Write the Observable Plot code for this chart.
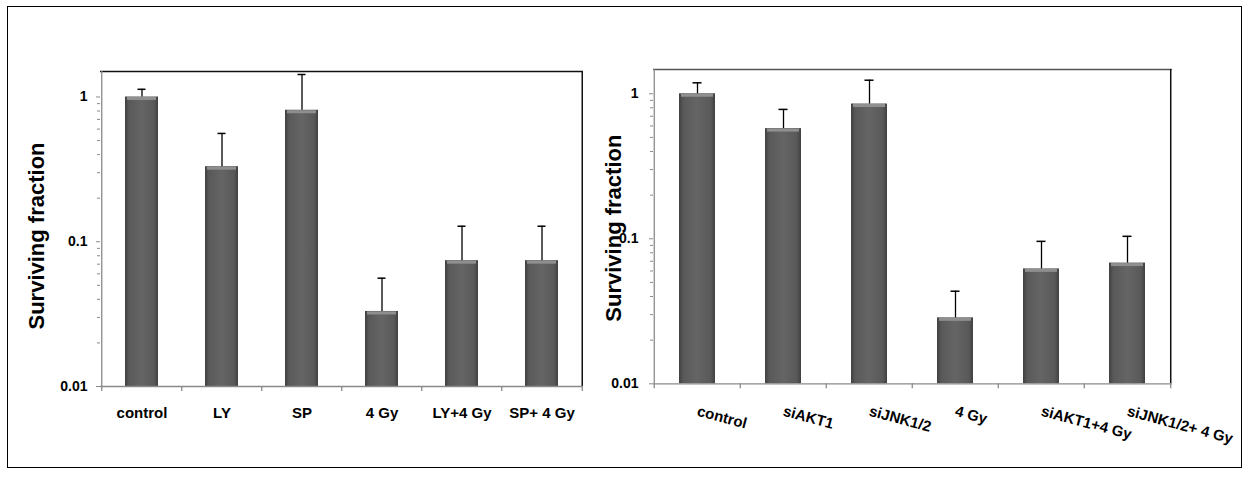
<!DOCTYPE html>
<html>
<head>
<meta charset="utf-8">
<script src="https://cdn.jsdelivr.net/npm/d3@7"></script>
<script src="https://cdn.jsdelivr.net/npm/@observablehq/plot@0.6"></script>
<style>
  html, body { margin: 0; padding: 0; background: #fff; }
  #wrap { position: relative; width: 1249px; height: 480px; overflow: hidden; font-family: "Liberation Sans", Arial, sans-serif; }
  #left { position: absolute; left: 0; top: 0; width: 590px; height: 480px; }
  #right { position: absolute; left: 590px; top: 0; width: 659px; height: 480px; }
  #border { position: absolute; left: 7px; top: 6px; width: 1235px; height: 462px; box-sizing: border-box; border: 1.5px solid #000; pointer-events: none; z-index: 5; }
</style>
</head>
<body>
<div id="wrap">
  <div id="left"></div>
  <div id="right"></div>
  <div id="border"></div>
</div>
<script>
// ---- data ----
const leftCategories = ["control", "LY", "SP", "4 Gy", "LY+4 Gy", "SP+ 4 Gy"];
const leftMeans      = [1.0, 0.33, 0.81, 0.033, 0.074, 0.074];
const leftUpper      = [1.13, 0.56, 1.43, 0.056, 0.128, 0.128];

const rightCategories = ["control", "siAKT1", "siJNK1/2", "4 Gy", "siAKT1+4 Gy", "siJNK1/2+ 4 Gy"];
const rightMeans      = [1.0, 0.575, 0.85, 0.0285, 0.062, 0.068];
const rightUpper      = [1.19, 0.78, 1.24, 0.0435, 0.096, 0.104];

const yMajorTicks  = [0.01, 0.1, 1];
const yTickLabels  = ["0.01", "0.1", "1"];
const yMinorTicks  = [0.02, 0.03, 0.04, 0.05, 0.06, 0.07, 0.08, 0.09,
                      0.2, 0.3, 0.4, 0.5, 0.6, 0.7, 0.8, 0.9];
const yAxisTitle   = "Surviving fraction";

const FONT = '"Liberation Sans", Arial, sans-serif';
const GREY = "#8a8a8a";

function panel(cfg) {
  const {categories, means, uppers, width, marginLeft, marginRight, marginTop, marginBottom,
         yMax, paddingInner, capWidth, rotate, labelDy, tickPadding, gradId, topStroke,
         titleDx, titleDy} = cfg;
  const height = 480;
  const data = categories.map((c, i) => ({cat: c, mean: means[i], upper: uppers[i]}));
  const step = (width - marginLeft - marginRight) / categories.length;
  const bw = step * (1 - paddingInner);
  const frameH = height - marginTop - marginBottom;
  const capInset = (bw - capWidth) / 2;
  const last = categories[categories.length - 1];

  const labelMark = rotate
    ? Plot.text(categories, {x: d => d, frameAnchor: "bottom", dy: labelDy, rotate: rotate,
        textAnchor: "start", lineAnchor: "middle", fontSize: 15, fontWeight: "bold", fill: "#000"})
    : Plot.text(categories, {x: d => d, frameAnchor: "bottom", dy: labelDy,
        textAnchor: "middle", lineAnchor: "top", fontSize: 15, fontWeight: "bold", fill: "#000"});

  const svg = Plot.plot({
    width, height, marginLeft, marginRight, marginTop, marginBottom,
    style: {background: "transparent", fontFamily: FONT, overflow: "visible"},
    x: {domain: categories, paddingInner: paddingInner, paddingOuter: paddingInner / 2, axis: null},
    y: {type: "log", domain: [0.01, yMax], axis: null},
    marks: [
      // bars
      Plot.barY(data, {x: "cat", y1: 0.01, y2: "mean", fill: `url(#${gradId})`}),
      // top bevel highlight
      Plot.tickY(data, {x: "cat", y: "mean", stroke: "#8f8f8f", strokeWidth: 3, dy: 1.5,
        insetLeft: 2, insetRight: 2}),
      // error bars
      Plot.ruleX(data, {x: "cat", y1: "mean", y2: "upper", stroke: "#000", strokeWidth: 1.3}),
      Plot.tickY(data, {x: "cat", y: "upper", stroke: "#000", strokeWidth: 1.5,
        insetLeft: capInset, insetRight: capInset}),
      // frame lines
      Plot.ruleY([yMax], {stroke: topStroke, strokeWidth: 1.5}),
      Plot.ruleX([last], {dx: step / 2, stroke: "#111", strokeWidth: 1.5}),
      Plot.ruleY([0.01], {stroke: GREY, strokeWidth: 1.3}),
      Plot.ruleX([categories[0]], {dx: -step / 2, stroke: GREY, strokeWidth: 1.3}),
      // category boundary ticks on the x axis
      Plot.ruleX(categories, {dx: -step / 2, insetTop: frameH, insetBottom: -5, stroke: GREY, strokeWidth: 1.3}),
      Plot.ruleX([last], {dx: step / 2, insetTop: frameH, insetBottom: -5, stroke: GREY, strokeWidth: 1.3}),
      // y axis
      Plot.axisY({ticks: yMajorTicks, tickFormat: d => yTickLabels[yMajorTicks.indexOf(d)],
        tickSize: 4, tickPadding: tickPadding, stroke: GREY, fill: "#000",
        fontSize: 14, fontWeight: "bold"}),
      Plot.axisY({ticks: yMinorTicks, tickFormat: () => "", tickSize: 3, stroke: GREY}),
      // x labels
      labelMark,
      // y title
      Plot.text([yAxisTitle], {frameAnchor: "left", rotate: -90, dx: titleDx, dy: titleDy,
        textAnchor: "middle", lineAnchor: "middle", fontSize: 22, fontWeight: "bold", fill: "#000"})
    ]
  });

  const defs = d3.select(svg).insert("defs", ":first-child");
  const g = defs.append("linearGradient").attr("id", gradId)
    .attr("x1", "0").attr("x2", "1").attr("y1", "0").attr("y2", "0");
  [["0%", "#404040"], ["12%", "#595959"], ["50%", "#656565"], ["88%", "#595959"], ["100%", "#404040"]]
    .forEach(([o, c]) => g.append("stop").attr("offset", o).attr("stop-color", c));
  return svg;
}

document.getElementById("left").appendChild(panel({
  categories: leftCategories, means: leftMeans, uppers: leftUpper,
  width: 590, marginLeft: 100, marginRight: 7, marginTop: 71, marginBottom: 94,
  yMax: 1.5, paddingInner: 0.59, capWidth: 8, rotate: 0, labelDy: 21, tickPadding: 9,
  gradId: "barGradL", topStroke: "#111", titleDx: -64, titleDy: 7
}));

document.getElementById("right").appendChild(panel({
  categories: rightCategories, means: rightMeans, uppers: rightUpper,
  width: 659, marginLeft: 63, marginRight: 77.3, marginTop: 69, marginBottom: 96.7,
  yMax: 1.47, paddingInner: 0.584, capWidth: 9, rotate: 15, labelDy: 27, tickPadding: 11,
  gradId: "barGradR", topStroke: "#555", titleDx: -40, titleDy: 1.5
}));
</script>
</body>
</html>
